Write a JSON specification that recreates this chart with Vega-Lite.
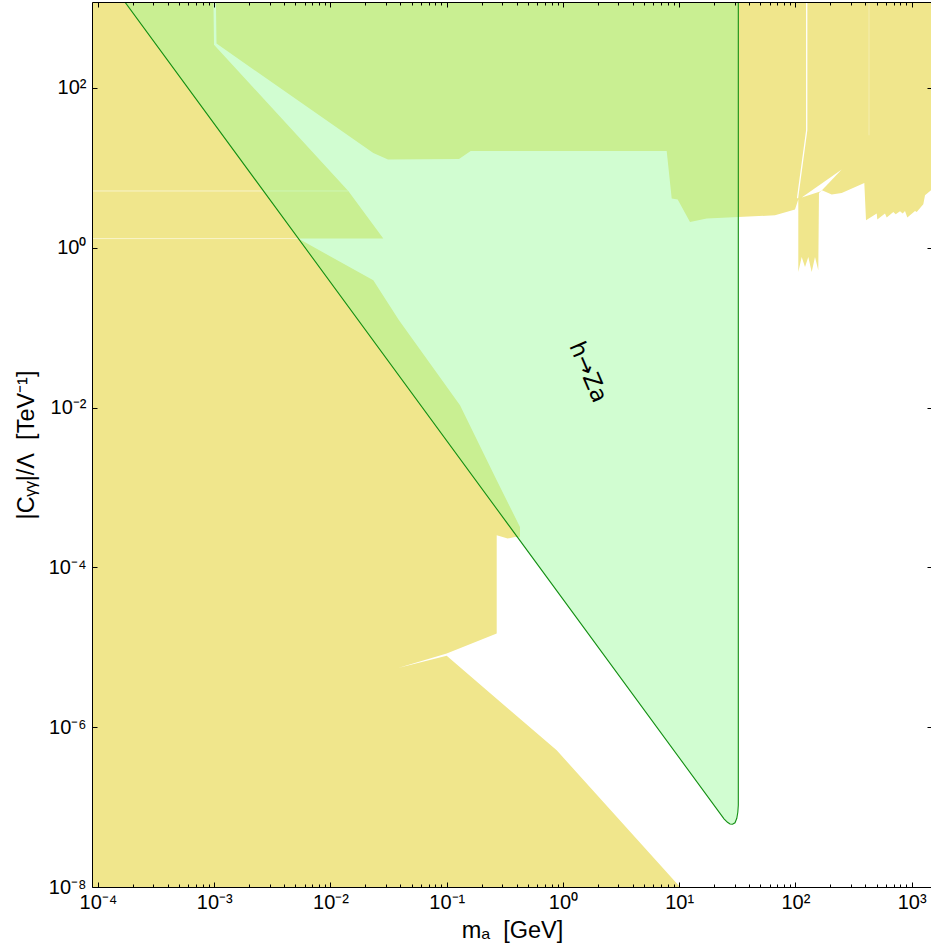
{
  "$schema": "https://vega.github.io/schema/vega-lite/v6.json",
  "width": 840,
  "height": 885,
  "autosize": {"type": "none"},
  "padding": {"left": 92, "top": 2, "right": 0, "bottom": 61},
  "background": "white",
  "config": {
    "view": {"stroke": null},
    "axis": {
      "grid": false,
      "domainColor": "black",
      "domainWidth": 1,
      "tickColor": "black",
      "tickWidth": 1,
      "labelColor": "black",
      "labelFont": "Liberation Sans",
      "labelFontSize": 20,
      "titleFont": "Liberation Sans",
      "titleFontSize": 23.5,
      "titleFontWeight": "normal",
      "titleColor": "black",
      "labelOverlap": false,
      "labelFlush": false,
      "zindex": 1
    }
  },
  "datasets": {
    "yellow": [
      {"poly": "L", "i": 1, "x": 7.003e-5, "y": 3000},
      {"poly": "L", "i": 2, "x": 9.757e-4, "y": 3000},
      {"poly": "L", "i": 3, "x": 9.953e-4, "y": 347.5},
      {"poly": "L", "i": 4, "x": 0.014236, "y": 5.142},
      {"poly": "L", "i": 5, "x": 0.028468, "y": 1.3038},
      {"poly": "L", "i": 6, "x": 0.0052853, "y": 1.3038},
      {"poly": "L", "i": 7, "x": 0.023355, "y": 0.3922},
      {"poly": "L", "i": 8, "x": 0.038862, "y": 0.12381},
      {"poly": "L", "i": 9, "x": 0.13012, "y": 0.010691},
      {"poly": "L", "i": 10, "x": 0.26914, "y": 0.0012314},
      {"poly": "L", "i": 11, "x": 0.42698, "y": 0.00032033},
      {"poly": "L", "i": 12, "x": 0.42698, "y": 0.00023812},
      {"poly": "L", "i": 13, "x": 0.3867, "y": 0.00024016},
      {"poly": "L", "i": 14, "x": 0.33462, "y": 0.00022935},
      {"poly": "L", "i": 15, "x": 0.26914, "y": 0.00025224},
      {"poly": "L", "i": 16, "x": 0.26914, "y": 1.4842e-5},
      {"poly": "L", "i": 17, "x": 0.099961, "y": 8.343e-6},
      {"poly": "L", "i": 18, "x": 0.038101, "y": 5.491e-6},
      {"poly": "L", "i": 19, "x": 0.099961, "y": 7.826e-6},
      {"poly": "L", "i": 20, "x": 0.88332, "y": 5.139e-7},
      {"poly": "L", "i": 21, "x": 10.16, "y": 1e-8},
      {"poly": "L", "i": 22, "x": 12.889, "y": 6.816e-9},
      {"poly": "L", "i": 23, "x": 7.003e-5, "y": 6.816e-9},
      {"poly": "U", "i": 1, "x": 1.0253e-3, "y": 3000},
      {"poly": "U", "i": 2, "x": 1.0458e-3, "y": 359.7},
      {"poly": "U", "i": 3, "x": 0.023355, "y": 15.37},
      {"poly": "U", "i": 4, "x": 0.031242, "y": 12.71},
      {"poly": "U", "i": 5, "x": 0.12757, "y": 12.93},
      {"poly": "U", "i": 6, "x": 0.16083, "y": 16.28},
      {"poly": "U", "i": 7, "x": 7.8049, "y": 16.28},
      {"poly": "U", "i": 8, "x": 8.6219, "y": 4.1305},
      {"poly": "U", "i": 9, "x": 9.7074, "y": 4.0134},
      {"poly": "U", "i": 10, "x": 12.388, "y": 2.1044},
      {"poly": "U", "i": 11, "x": 17.245, "y": 2.3212},
      {"poly": "U", "i": 12, "x": 32.247, "y": 2.4306},
      {"poly": "U", "i": 13, "x": 66.71, "y": 2.5527},
      {"poly": "U", "i": 14, "x": 99.13, "y": 3.0085},
      {"poly": "U", "i": 15, "x": 105.83, "y": 4.0478},
      {"poly": "U", "i": 16, "x": 105.83, "y": 0.49817},
      {"poly": "U", "i": 17, "x": 113.2, "y": 0.76766},
      {"poly": "U", "i": 18, "x": 120.87, "y": 0.5753},
      {"poly": "U", "i": 19, "x": 129.02, "y": 0.76766},
      {"poly": "U", "i": 20, "x": 138.0, "y": 0.49817},
      {"poly": "U", "i": 21, "x": 147.3, "y": 0.76766},
      {"poly": "U", "i": 22, "x": 157.2, "y": 0.52312},
      {"poly": "U", "i": 23, "x": 159.4, "y": 4.8551},
      {"poly": "U", "i": 24, "x": 169.2, "y": 5.2467},
      {"poly": "U", "i": 25, "x": 205.1, "y": 4.6361},
      {"poly": "U", "i": 26, "x": 250.0, "y": 4.8551},
      {"poly": "U", "i": 27, "x": 391.3, "y": 6.4757},
      {"poly": "U", "i": 28, "x": 404.7, "y": 2.2098},
      {"poly": "U", "i": 29, "x": 500.2, "y": 2.6804},
      {"poly": "U", "i": 30, "x": 506.2, "y": 2.2545},
      {"poly": "U", "i": 31, "x": 589.5, "y": 2.6804},
      {"poly": "U", "i": 32, "x": 609.7, "y": 2.3884},
      {"poly": "U", "i": 33, "x": 694.8, "y": 2.8075},
      {"poly": "U", "i": 34, "x": 728.7, "y": 2.6273},
      {"poly": "U", "i": 35, "x": 793.6, "y": 2.865},
      {"poly": "U", "i": 36, "x": 837.1, "y": 2.6804},
      {"poly": "U", "i": 37, "x": 876.1, "y": 2.8895},
      {"poly": "U", "i": 38, "x": 917.0, "y": 2.3884},
      {"poly": "U", "i": 39, "x": 1068.0, "y": 2.8895},
      {"poly": "U", "i": 40, "x": 1104.6, "y": 2.8075},
      {"poly": "U", "i": 41, "x": 1258.9, "y": 3.5056},
      {"poly": "U", "i": 42, "x": 1302.0, "y": 4.5433},
      {"poly": "U", "i": 43, "x": 1466.3, "y": 5.2467},
      {"poly": "U", "i": 44, "x": 1935, "y": 6.063},
      {"poly": "U", "i": 45, "x": 1935, "y": 3000}
    ],
    "faint": [
      {"line": "a", "i": 1, "x": 7e-5, "y": 5.142},
      {"line": "a", "i": 2, "x": 0.014236, "y": 5.142},
      {"line": "b", "i": 1, "x": 7e-5, "y": 1.3038},
      {"line": "b", "i": 2, "x": 0.0052853, "y": 1.3038}
    ],
    "fainter": [
      {"i": 1, "x": 429.4, "y": 3000},
      {"i": 2, "x": 429.4, "y": 25.6}
    ],
    "whiteline": [
      {"i": 1, "x": 125.0, "y": 3000},
      {"i": 2, "x": 125.0, "y": 29.57},
      {"i": 3, "x": 104.2, "y": 4.166}
    ],
    "whitepoly": [
      {"i": 1, "x": 113.2, "y": 4.2511},
      {"i": 2, "x": 250.0, "y": 9.528},
      {"i": 3, "x": 165.9, "y": 5.0979}
    ],
    "green": [
      {"i": 1, "x": 1.0697e-4, "y": 3000},
      {"i": 2, "x": 22.44, "y": 8.362e-8},
      {"i": 3, "x": 24.29, "y": 7.139e-8},
      {"i": 4, "x": 26.03, "y": 6.453e-8},
      {"i": 5, "x": 27.35, "y": 6.144e-8},
      {"i": 6, "x": 28.74, "y": 6.091e-8},
      {"i": 7, "x": 30.2, "y": 6.36e-8},
      {"i": 8, "x": 31.3, "y": 7.242e-8},
      {"i": 9, "x": 31.93, "y": 8.607e-8},
      {"i": 10, "x": 32.247, "y": 1.0535e-7},
      {"i": 11, "x": 32.247, "y": 3000}
    ],
    "label": [
      {"x": 1.64, "y": 0.0277, "t": "h→Za"}
    ]
  },
  "layer": [
    {
      "data": {"name": "yellow"},
      "mark": {"type": "line", "fill": "#F0E68C", "stroke": null, "clip": true},
      "encoding": {
        "x": {"field": "x", "type": "quantitative", "scale": {"type": "log", "domain": [8.88e-5, 1495.5], "nice": false}, "axis": null},
        "y": {"field": "y", "type": "quantitative", "scale": {"type": "log", "domain": [1e-8, 1192], "nice": false}, "axis": null},
        "detail": {"field": "poly"},
        "order": {"field": "i", "type": "quantitative"}
      }
    },
    {
      "data": {"name": "faint"},
      "mark": {"type": "line", "stroke": "white", "strokeWidth": 1, "strokeOpacity": 0.55, "clip": true},
      "encoding": {
        "x": {"field": "x", "type": "quantitative", "scale": {"type": "log", "domain": [8.88e-5, 1495.5], "nice": false}, "axis": null},
        "y": {"field": "y", "type": "quantitative", "scale": {"type": "log", "domain": [1e-8, 1192], "nice": false}, "axis": null},
        "detail": {"field": "line"},
        "order": {"field": "i", "type": "quantitative"}
      }
    },
    {
      "data": {"name": "fainter"},
      "mark": {"type": "line", "stroke": "white", "strokeWidth": 1, "strokeOpacity": 0.3, "clip": true},
      "encoding": {
        "x": {"field": "x", "type": "quantitative", "scale": {"type": "log", "domain": [8.88e-5, 1495.5], "nice": false}, "axis": null},
        "y": {"field": "y", "type": "quantitative", "scale": {"type": "log", "domain": [1e-8, 1192], "nice": false}, "axis": null},
        "order": {"field": "i", "type": "quantitative"}
      }
    },
    {
      "data": {"name": "whiteline"},
      "mark": {"type": "line", "stroke": "white", "strokeWidth": 1.3, "clip": true},
      "encoding": {
        "x": {"field": "x", "type": "quantitative", "scale": {"type": "log", "domain": [8.88e-5, 1495.5], "nice": false}, "axis": null},
        "y": {"field": "y", "type": "quantitative", "scale": {"type": "log", "domain": [1e-8, 1192], "nice": false}, "axis": null},
        "order": {"field": "i", "type": "quantitative"}
      }
    },
    {
      "data": {"name": "whitepoly"},
      "mark": {"type": "line", "fill": "white", "stroke": null, "clip": true},
      "encoding": {
        "x": {"field": "x", "type": "quantitative", "scale": {"type": "log", "domain": [8.88e-5, 1495.5], "nice": false}, "axis": null},
        "y": {"field": "y", "type": "quantitative", "scale": {"type": "log", "domain": [1e-8, 1192], "nice": false}, "axis": null},
        "order": {"field": "i", "type": "quantitative"}
      }
    },
    {
      "data": {"name": "green"},
      "mark": {"type": "line", "fill": "#98FB98", "fillOpacity": 0.45, "stroke": "#138f13", "strokeWidth": 1.1, "clip": true},
      "encoding": {
        "x": {
          "field": "x", "type": "quantitative",
          "scale": {"type": "log", "domain": [8.88e-5, 1495.5], "nice": false},
          "axis": {
            "orient": "top",
            "zindex": 2,
            "values": [0.0001,0.0002,0.0003,0.0004,0.0005,0.0006,0.0007,0.0008,0.0009,0.001,0.002,0.003,0.004,0.005,0.006,0.007,0.008,0.009,0.01,0.02,0.03,0.04,0.05,0.06,0.07,0.08,0.09,0.1,0.2,0.3,0.4,0.5,0.6,0.7,0.8,0.9,1,2,3,4,5,6,7,8,9,10,20,30,40,50,60,70,80,90,100,200,300,400,500,600,700,800,900,1000],
            "labels": false,
            "title": null,
            "tickSize": {"condition": {"test": "abs(log(datum.value)/LN10 - round(log(datum.value)/LN10)) < 0.001", "value": -5}, "value": -3}
          }
        },
        "y": {
          "field": "y", "type": "quantitative",
          "scale": {"type": "log", "domain": [1e-8, 1192], "nice": false},
          "axis": {
            "orient": "right",
            "zindex": 2,
            "values": [1e-8, 1e-6, 1e-4, 0.01, 1, 100],
            "labels": false,
            "title": null,
            "tickSize": -5
          }
        },
        "order": {"field": "i", "type": "quantitative"}
      }
    },
    {
      "data": {"name": "label"},
      "mark": {"type": "text", "angle": 67, "fontSize": 23, "font": "DejaVu Sans", "color": "black", "align": "center", "baseline": "middle"},
      "encoding": {
        "x": {
          "field": "x", "type": "quantitative",
          "scale": {"type": "log", "domain": [8.88e-5, 1495.5], "nice": false},
          "axis": {
            "orient": "bottom",
            "zindex": 2,
            "values": [0.0001,0.0002,0.0003,0.0004,0.0005,0.0006,0.0007,0.0008,0.0009,0.001,0.002,0.003,0.004,0.005,0.006,0.007,0.008,0.009,0.01,0.02,0.03,0.04,0.05,0.06,0.07,0.08,0.09,0.1,0.2,0.3,0.4,0.5,0.6,0.7,0.8,0.9,1,2,3,4,5,6,7,8,9,10,20,30,40,50,60,70,80,90,100,200,300,400,500,600,700,800,900,1000],
            "labelExpr": "abs(log(datum.value)/LN10 - round(log(datum.value)/LN10)) < 0.001 ? '10' + (round(log(datum.value)/LN10) < 0 ? '⁻' : '') + substring('⁰¹²³⁴⁵⁶⁷⁸⁹', abs(round(log(datum.value)/LN10)), abs(round(log(datum.value)/LN10)) + 1) : ''",
            "tickSize": {"condition": {"test": "abs(log(datum.value)/LN10 - round(log(datum.value)/LN10)) < 0.001", "value": -5}, "value": -3},
            "labelPadding": 10,
            "title": "mₐ\u00a0\u00a0[GeV]",
            "titlePadding": 4
          }
        },
        "y": {
          "field": "y", "type": "quantitative",
          "scale": {"type": "log", "domain": [1e-8, 1192], "nice": false},
          "axis": {
            "orient": "left",
            "zindex": 2,
            "values": [1e-8, 1e-6, 1e-4, 0.01, 1, 100],
            "labelExpr": "abs(log(datum.value)/LN10 - round(log(datum.value)/LN10)) < 0.001 ? '10' + (round(log(datum.value)/LN10) < 0 ? '⁻' : '') + substring('⁰¹²³⁴⁵⁶⁷⁸⁹', abs(round(log(datum.value)/LN10)), abs(round(log(datum.value)/LN10)) + 1) : ''",
            "tickSize": -5,
            "labelPadding": 11,
            "title": "|Cᵧᵧ|/Λ\u00a0\u00a0[TeV⁻¹]",
            "titlePadding": 10
          }
        },
        "text": {"field": "t"}
      }
    }
  ],
  "resolve": {"axis": {"x": "independent", "y": "independent"}}
}
